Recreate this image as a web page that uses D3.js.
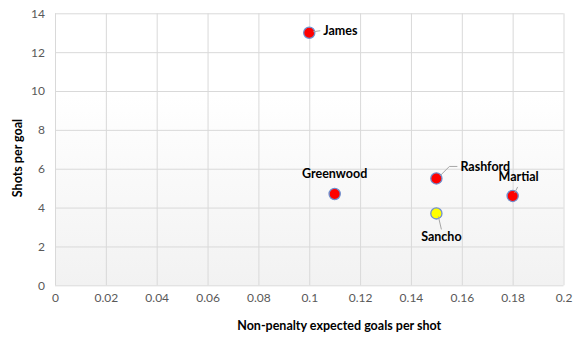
<!DOCTYPE html>
<html><head><meta charset="utf-8">
<script src="https://cdn.jsdelivr.net/npm/d3@7"></script>
<style>body{margin:0;background:#fff}svg{display:block}</style>
</head><body>
<svg id="c" width="584" height="342"></svg>
<script>
const players = ["James", "Greenwood", "Rashford", "Sancho", "Martial"];
const xgPerShot = [0.10, 0.11, 0.15, 0.15, 0.18];
const shotsPerGoal = [13, 4.7, 5.5, 3.7, 4.6];
const pointColors = ["#FF0000", "#FF0000", "#FF0000", "#FFFF00", "#FF0000"];
const xTicks = [0, 0.02, 0.04, 0.06, 0.08, 0.1, 0.12, 0.14, 0.16, 0.18, 0.2];
const yTicks = [0, 2, 4, 6, 8, 10, 12, 14];
const xTitle = "Non-penalty expected goals per shot";
const yTitle = "Shots per goal";

const svg = d3.select("#c");
const L = 55, R = 563.5, T = 13.3, B = 285.3;
const x = d3.scaleLinear().domain([0, 0.2]).range([L, R]);
const y = d3.scaleLinear().domain([0, 14]).range([B, T]);

const defs = svg.append("defs");
const g = defs.append("linearGradient").attr("id","bg").attr("x1",0).attr("y1",0).attr("x2",0).attr("y2",1);
g.append("stop").attr("offset","0%").attr("stop-color","#ffffff");
g.append("stop").attr("offset","30%").attr("stop-color","#ffffff");
g.append("stop").attr("offset","100%").attr("stop-color","#f2f2f2");

svg.append("rect").attr("x",L).attr("y",T).attr("width",R-L).attr("height",B-T).attr("fill","url(#bg)");

const font = "Lato, 'Open Sans', sans-serif";

// grid
svg.append("g").attr("transform",`translate(0,${B})`)
  .call(d3.axisBottom(x).tickValues(xTicks).tickSize(-(B-T)).tickFormat(d=>d3.format("")(+d.toFixed(2))))
  .call(a=>{a.select(".domain").remove();
    a.selectAll(".tick line").attr("stroke","#d9d9d9").attr("stroke-width",1);
    a.selectAll(".tick text").attr("fill","#595959").attr("font-size","12px").attr("font-family",font).attr("dy","0").attr("y",17);});
svg.append("g").attr("transform",`translate(${L},0)`)
  .call(d3.axisLeft(y).tickValues(yTicks).tickSize(-(R-L)))
  .call(a=>{a.select(".domain").remove();
    a.selectAll(".tick line").attr("stroke","#d9d9d9").attr("stroke-width",1);
    a.selectAll(".tick text").attr("fill","#595959").attr("font-size","12px").attr("font-family",font).attr("x",-10);});

// titles
svg.append("text").attr("x",(L+R)/2+30).attr("y",330).attr("text-anchor","middle")
  .attr("font-family",font).attr("font-weight","bold").attr("font-size","12.5px").attr("fill","#000").text(xTitle);
svg.append("text").attr("transform",`translate(22,158) rotate(-90)`).attr("text-anchor","middle")
  .attr("font-family",font).attr("font-weight","bold").attr("font-size","12.5px").attr("fill","#000").text(yTitle);

// label placement offsets (label anchor relative to point, leader endpoint)
const labelPos = {
  "James":     {dx: 14, dy: -2, anchor: "start", leader: [[4,-1],[11,-2]]},
  "Greenwood": {dx: 0, dy: -20, anchor: "middle", leader: null},
  "Rashford":  {dx: 24, dy: -12, anchor: "start", leader: [[4,-3],[13,-12],[21,-12]]},
  "Sancho":    {dx: 5, dy: 23, anchor: "middle", leader: [[2,3],[5,16]]},
  "Martial":   {dx: 6, dy: -19, anchor: "middle", leader: [[2,-3],[5,-9]]}
};

const data = players.map((p,i)=>({name:p, x:xgPerShot[i], y:shotsPerGoal[i], c:pointColors[i]}));

svg.append("g").selectAll("circle").data(data).join("circle")
  .attr("cx",d=>x(d.x)).attr("cy",d=>y(d.y)).attr("r",5.6)
  .attr("fill",d=>d.c).attr("stroke","#6f8fcf").attr("stroke-width",1.3);
data.forEach(d=>{
  const px = x(d.x), py = y(d.y), lp = labelPos[d.name];
  if (lp.leader) {
    const pts = lp.leader.map(q=>[px+q[0], py+q[1]]);
    svg.append("path").attr("d", d3.line()(pts)).attr("fill","none").attr("stroke","#a6a6a6").attr("stroke-width",1);
  }
  svg.append("text").attr("x",px+lp.dx).attr("y",py+lp.dy).attr("dy","0.35em")
    .attr("text-anchor",lp.anchor).attr("font-family",font).attr("font-weight","bold")
    .attr("font-size","12.5px").attr("fill","#000").text(d.name);
});
</script>
</body></html>
